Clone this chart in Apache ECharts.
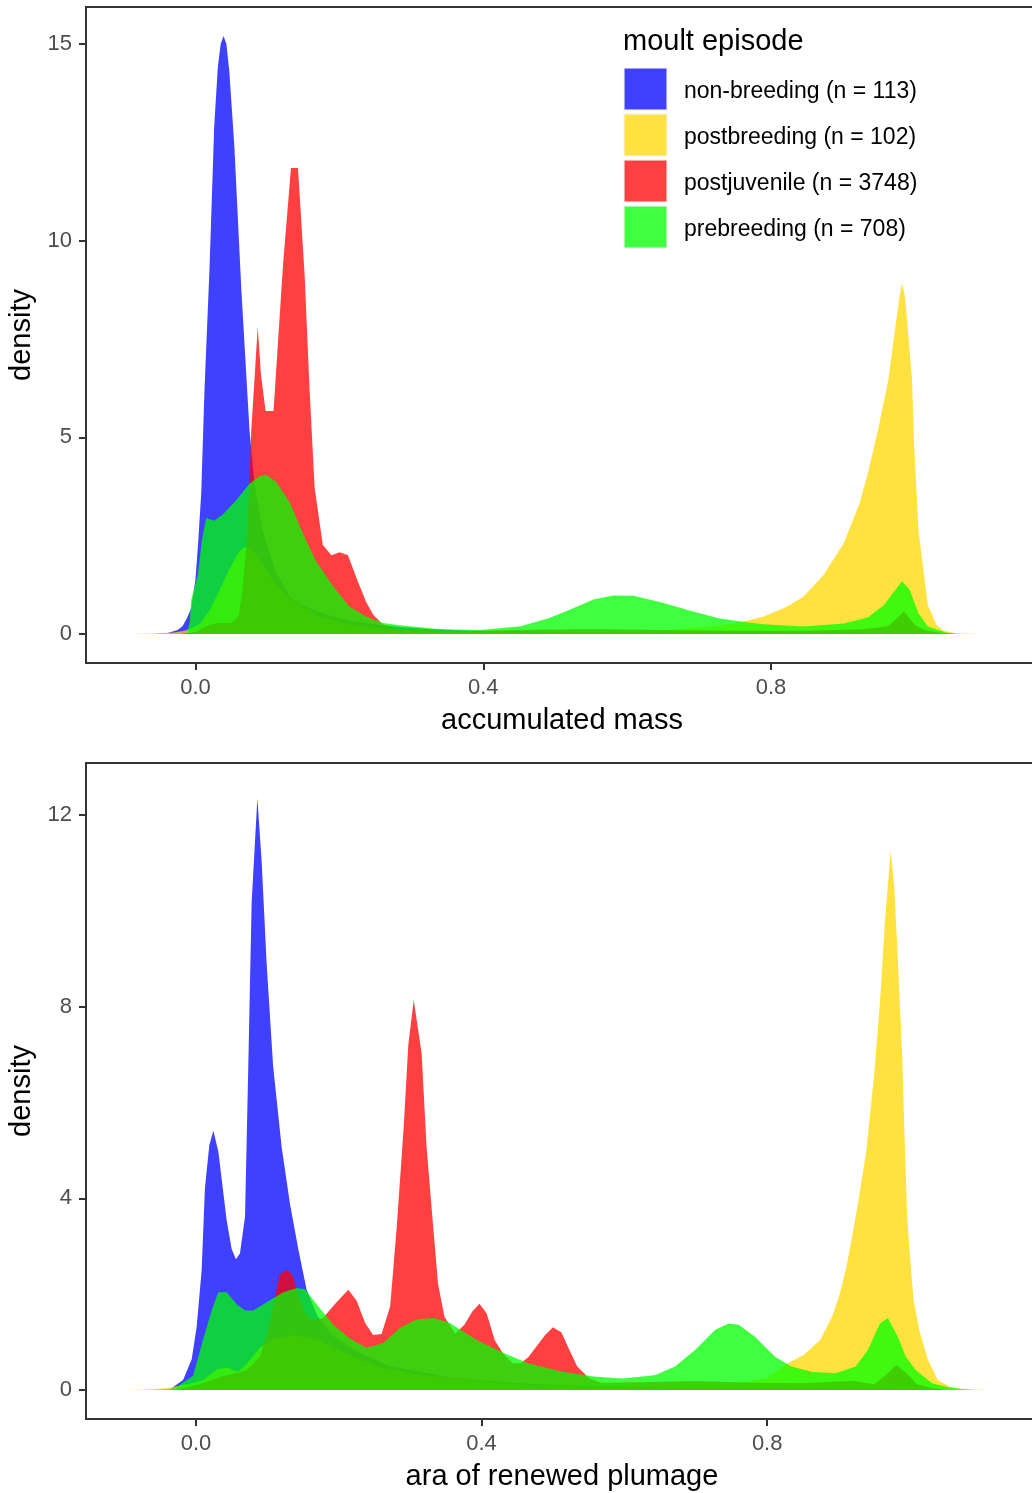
<!DOCTYPE html>
<html><head><meta charset="utf-8">
<script src="https://cdn.jsdelivr.net/npm/echarts@6/dist/echarts.min.js"></script>
<style>html,body{margin:0;padding:0;background:#fff}#chart{width:1032px;height:1493px}</style>
</head><body><div id="chart"></div>
<script>
// ---- categories / legend ----
const categories = ['non-breeding (n = 113)', 'postbreeding (n = 102)', 'postjuvenile (n = 3748)', 'prebreeding (n = 708)'];
const colors = ['#0000FF', '#FFD700', '#FF0000', '#00FF00'];
const legendTitle = 'moult episode';

// ---- tick labels ----
const xTicks = [0, 0.4, 0.8];
const yTicksMass = [0, 5, 10, 15];
const yTicksPlum = [0, 4, 8, 12];

// ---- panel 1: accumulated mass (density curves, [x, density]) ----
const massNonbreeding = [[-0.06,0],[-0.04,0.02],[-0.025,0.1],[-0.018,0.2],[-0.012,0.4],[-0.006,0.65],[0.0,1.4],[0.004,2.4],[0.008,3.6],[0.0125,6.2],[0.0195,9.3],[0.026,12.9],[0.031,14.4],[0.035,15.0],[0.039,15.2],[0.043,15.0],[0.047,14.3],[0.054,12.4],[0.0636,8.8],[0.075,5.2],[0.082,3.8],[0.094,2.6],[0.112,1.55],[0.131,0.95],[0.15,0.72],[0.168,0.58],[0.19,0.45],[0.214,0.34],[0.25,0.24],[0.284,0.18],[0.33,0.12],[0.4,0.07],[0.5,0.05],[0.6,0.04],[0.7,0.03],[0.8,0.03],[0.9,0.03],[1.0,0.02],[1.05,0]];
const massPostbreeding = [[-0.09,0],[-0.06,0.01],[-0.03,0.04],[-0.015,0.08],[-0.005,0.15],[0.0056,0.25],[0.0195,0.6],[0.0334,1.12],[0.047,1.64],[0.059,2.05],[0.068,2.21],[0.0775,2.16],[0.094,1.74],[0.112,1.22],[0.131,0.91],[0.168,0.49],[0.214,0.23],[0.284,0.1],[0.35,0.06],[0.45,0.05],[0.55,0.06],[0.65,0.1],[0.72,0.2],[0.76,0.31],[0.789,0.44],[0.822,0.69],[0.845,0.95],[0.873,1.5],[0.901,2.3],[0.923,3.32],[0.9345,4.08],[0.9486,5.18],[0.963,6.45],[0.972,7.7],[0.978,8.5],[0.982,8.92],[0.986,8.6],[0.99,7.8],[0.996,6.45],[0.999,4.75],[1.005,2.64],[1.013,1.45],[1.018,0.74],[1.03,0.23],[1.04,0.08],[1.057,0.02],[1.09,0]];
const massPostjuvenile = [[-0.02,0],[0.0,0.05],[0.015,0.2],[0.029,0.28],[0.05,0.28],[0.06,0.45],[0.0636,0.9],[0.066,1.3],[0.0705,2.16],[0.075,3.82],[0.0775,5.17],[0.0865,7.8],[0.091,6.6],[0.0974,5.67],[0.1085,5.67],[0.1215,9.34],[0.1327,11.85],[0.1425,11.85],[0.1517,9.13],[0.1586,6.2],[0.1656,3.72],[0.177,2.26],[0.189,2.0],[0.2004,2.08],[0.212,2.0],[0.2236,1.43],[0.2375,0.8],[0.247,0.49],[0.26,0.25],[0.28,0.12],[0.35,0.07],[0.45,0.1],[0.55,0.13],[0.65,0.1],[0.75,0.08],[0.85,0.08],[0.929,0.12],[0.963,0.2],[0.985,0.57],[1.0,0.23],[1.013,0.1],[1.035,0.03],[1.06,0]];
const massPrebreeding = [[-0.012,0],[-0.008,0.3],[-0.006,0.86],[0.0033,1.5],[0.009,2.4],[0.0149,2.95],[0.026,2.88],[0.038,3.04],[0.0566,3.4],[0.075,3.82],[0.088,4.0],[0.098,4.05],[0.112,3.87],[0.131,3.35],[0.149,2.57],[0.168,1.84],[0.191,1.22],[0.214,0.7],[0.2375,0.44],[0.2607,0.28],[0.284,0.22],[0.34,0.12],[0.396,0.1],[0.452,0.2],[0.491,0.4],[0.5195,0.61],[0.553,0.88],[0.581,0.98],[0.609,0.97],[0.648,0.8],[0.688,0.59],[0.727,0.4],[0.761,0.31],[0.789,0.25],[0.845,0.19],[0.901,0.27],[0.9345,0.42],[0.957,0.74],[0.982,1.34],[0.993,1.12],[1.005,0.52],[1.018,0.19],[1.04,0.06],[1.05,0]];

// ---- panel 2: area of renewed plumage ----
const plumNonbreeding = [[-0.06,0],[-0.036,0.02],[-0.018,0.21],[-0.006,0.64],[0.001,1.32],[0.008,2.51],[0.0126,4.22],[0.0187,5.11],[0.0243,5.41],[0.0313,4.98],[0.043,3.54],[0.05,2.94],[0.056,2.73],[0.0616,2.85],[0.0687,3.62],[0.0733,6.77],[0.078,10.18],[0.086,12.35],[0.092,11.03],[0.099,8.9],[0.108,6.77],[0.12,5.07],[0.1317,3.88],[0.1433,2.94],[0.155,2.09],[0.17,1.55],[0.19,1.15],[0.225,0.81],[0.27,0.5],[0.356,0.26],[0.45,0.14],[0.55,0.08],[0.7,0.05],[0.9,0.03],[1.0,0.02],[1.05,0]];
const plumPostbreeding = [[-0.1,0],[-0.07,0.01],[-0.04,0.04],[-0.02,0.1],[0.0,0.16],[0.0103,0.21],[0.029,0.43],[0.043,0.47],[0.059,0.38],[0.071,0.55],[0.09,0.89],[0.108,1.06],[0.136,1.15],[0.169,1.06],[0.216,0.72],[0.2624,0.46],[0.309,0.34],[0.356,0.25],[0.45,0.12],[0.55,0.08],[0.65,0.08],[0.75,0.12],[0.8,0.25],[0.829,0.557],[0.851,0.73],[0.874,1.04],[0.891,1.53],[0.902,2.02],[0.911,2.57],[0.919,3.2],[0.928,3.97],[0.939,5.01],[0.95,6.6],[0.958,8.1],[0.965,9.8],[0.973,11.27],[0.978,10.5],[0.983,9.0],[0.989,7.0],[0.993,5.01],[0.996,3.62],[1.0,2.78],[1.005,1.88],[1.013,1.25],[1.025,0.63],[1.039,0.21],[1.056,0.07],[1.073,0.02],[1.11,0]];
const plumPostjuvenile = [[-0.03,0],[0.0,0.1],[0.04,0.3],[0.07,0.4],[0.09,0.7],[0.1,1.2],[0.108,1.74],[0.117,2.4],[0.127,2.51],[0.135,2.4],[0.145,1.9],[0.155,1.55],[0.165,1.45],[0.178,1.5],[0.195,1.8],[0.2134,2.09],[0.225,1.86],[0.237,1.4],[0.248,1.15],[0.26,1.17],[0.272,1.75],[0.281,3.36],[0.291,5.5],[0.2974,7.2],[0.305,8.14],[0.316,7.03],[0.323,5.07],[0.331,3.62],[0.339,2.22],[0.348,1.53],[0.363,1.18],[0.376,1.36],[0.387,1.64],[0.397,1.8],[0.407,1.6],[0.4185,1.04],[0.43,0.76],[0.444,0.556],[0.455,0.556],[0.466,0.695],[0.489,1.15],[0.5,1.31],[0.512,1.2],[0.523,0.835],[0.534,0.49],[0.551,0.24],[0.568,0.15],[0.62,0.16],[0.7,0.19],[0.78,0.15],[0.85,0.14],[0.9,0.18],[0.92,0.19],[0.95,0.12],[0.965,0.3],[0.981,0.52],[0.995,0.35],[1.01,0.12],[1.03,0.04],[1.05,0]];
const plumPrebreeding = [[-0.04,0],[-0.029,0.04],[-0.004,0.3],[0.0103,1.07],[0.022,1.66],[0.0313,2.04],[0.043,2.04],[0.057,1.79],[0.069,1.66],[0.0803,1.66],[0.099,1.83],[0.1223,2.04],[0.141,2.13],[0.1527,2.1],[0.169,1.79],[0.1924,1.36],[0.216,1.07],[0.239,0.88],[0.2624,0.98],[0.2857,1.3],[0.309,1.47],[0.3325,1.5],[0.356,1.4],[0.3625,1.33],[0.397,1.01],[0.431,0.77],[0.465,0.557],[0.5125,0.38],[0.557,0.28],[0.597,0.24],[0.6425,0.31],[0.671,0.49],[0.699,0.835],[0.727,1.25],[0.746,1.39],[0.76,1.36],[0.783,1.11],[0.811,0.696],[0.834,0.49],[0.862,0.38],[0.896,0.35],[0.924,0.49],[0.941,0.835],[0.958,1.39],[0.969,1.5],[0.983,1.11],[0.994,0.7],[1.008,0.42],[1.031,0.14],[1.054,0.06],[1.071,0.02],[1.09,0]];

const massSeries = [massNonbreeding, massPostbreeding, massPostjuvenile, massPrebreeding];
const plumSeries = [plumNonbreeding, plumPostbreeding, plumPostjuvenile, plumPrebreeding];

const FONT = 'Liberation Sans, Arial, sans-serif';
const AXIS_COL = '#333333';

function xAxisCfg(gridIndex, min, max, name) {
  return {
    gridIndex, type: 'value', min, max,
    axisLine: {show: false, onZero: false}, splitLine: {show: false},
    axisTick: {show: true, length: 7, lineStyle: {color: AXIS_COL, width: 2}, customValues: xTicks},
    axisLabel: {customValues: xTicks, formatter: v => v.toFixed(1), fontSize: 22, color: '#4D4D4D', margin: 14, fontFamily: FONT},
    name, nameLocation: 'middle', nameGap: 43,
    nameTextStyle: {fontSize: 29, color: '#000', fontFamily: FONT}
  };
}
function yAxisCfg(gridIndex, min, max, ticks) {
  return {
    gridIndex, type: 'value', min, max,
    axisLine: {show: false, onZero: false}, splitLine: {show: false},
    axisTick: {show: true, length: 7, lineStyle: {color: AXIS_COL, width: 2}, customValues: ticks},
    axisLabel: {customValues: ticks, fontSize: 22, color: '#4D4D4D', margin: 14, fontFamily: FONT},
    name: 'density', nameLocation: 'middle', nameGap: 50, nameRotate: 90,
    nameTextStyle: {fontSize: 29, color: '#000', fontFamily: FONT}
  };
}

const series = [];
[massSeries, plumSeries].forEach((group, gi) => {
  group.forEach((data, i) => {
    series.push({
      type: 'line', xAxisIndex: gi, yAxisIndex: gi, data,
      name: categories[i], symbol: 'none', showSymbol: false, silent: true,
      lineStyle: {width: 0, opacity: 0},
      areaStyle: {color: colors[i], opacity: 0.75},
      z: 2 + i
    });
  });
});

// legend drawn as graphic elements built from categories/colors
const graphic = [{
  type: 'text', x: 623, y: 42,
  style: {text: legendTitle, fontSize: 29, fontFamily: FONT, fill: '#000', verticalAlign: 'middle', align: 'left'}
}];
categories.forEach((c, i) => {
  graphic.push({
    type: 'rect', shape: {x: 624, y: 68 + i * 46, width: 43, height: 42},
    style: {fill: colors[i], opacity: 0.75, stroke: '#F2F2F2', lineWidth: 1.5}
  });
  graphic.push({
    type: 'text', x: 684, y: 92 + i * 46,
    style: {text: c, fontSize: 23, fontFamily: FONT, fill: '#000', verticalAlign: 'middle', align: 'left'}
  });
});

const chart = echarts.init(document.getElementById('chart'), null, {renderer: 'canvas'});
chart.setOption({
  animation: false,
  backgroundColor: '#fff',
  grid: [
    {left: 86, top: 7, width: 952, height: 656, show: true, borderColor: AXIS_COL, borderWidth: 2, backgroundColor: 'transparent', containLabel: false, outerBoundsMode: 'none'},
    {left: 86, top: 763, width: 952, height: 656, show: true, borderColor: AXIS_COL, borderWidth: 2, backgroundColor: 'transparent', containLabel: false, outerBoundsMode: 'none'}
  ],
  xAxis: [
    xAxisCfg(0, -0.1522, 1.1711, 'accumulated mass'),
    xAxisCfg(1, -0.154, 1.1793, 'ara of renewed plumage')
  ],
  yAxis: [
    yAxisCfg(0, -0.737, 15.94, yTicksMass),
    yAxisCfg(1, -0.605, 13.084, yTicksPlum)
  ],
  series,
  graphic
});
</script>
</body></html>
